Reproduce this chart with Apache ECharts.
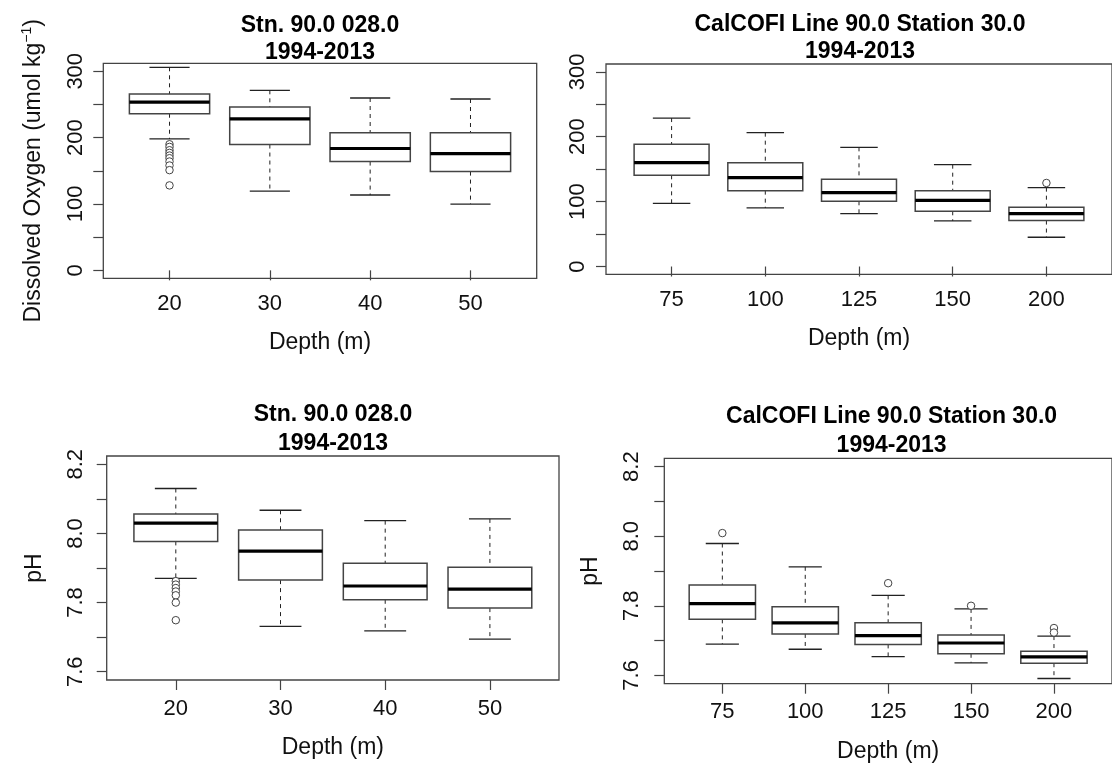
<!DOCTYPE html>
<html>
<head>
<meta charset="utf-8">
<script src="https://cdn.jsdelivr.net/npm/echarts@6/dist/echarts.min.js"></script>
<style>
html,body{margin:0;padding:0;background:#fff;}
#chart{width:1112px;height:770px;}
</style>
</head>
<body>
<div id="chart"></div>
<script>
// ---------- data ----------
// box stats per depth: [lower whisker, Q1, median, Q3, upper whisker]
const oxyStnCats = ['20', '30', '40', '50'];
const oxyStnBoxes = [
  [198, 236, 253.6, 265.7, 306],
  [119.5, 189.6, 228.4, 246, 271.3],
  [113.5, 163.9, 183.6, 207.3, 259.7],
  [99.8, 148.8, 176, 207.3, 258.2]
];
// outliers: [category index, value]
const oxyStnOutliers = [[0, 190], [0, 186], [0, 181], [0, 177], [0, 173], [0, 169], [0, 164], [0, 158], [0, 151], [0, 128]];

const oxyCalCats = ['75', '100', '125', '150', '200'];
const oxyCalBoxes = [
  [97.4, 140.5, 160, 188.2, 228.7],
  [90.3, 116.9, 136.9, 160, 206.2],
  [81.5, 100.5, 113.8, 134.4, 183.6],
  [70.3, 85.1, 102, 116.9, 156.9],
  [45.1, 70.8, 81.5, 91.3, 121.5]
];
const oxyCalOutliers = [[4, 128.7]];

const phStnCats = ['20', '30', '40', '50'];
const phStnBoxes = [
  [7.870, 7.977, 8.030, 8.056, 8.130],
  [7.731, 7.865, 7.949, 8.010, 8.067],
  [7.718, 7.808, 7.848, 7.914, 8.037],
  [7.694, 7.784, 7.839, 7.902, 8.042]
];
const phStnOutliers = [[0, 7.862], [0, 7.852], [0, 7.842], [0, 7.832], [0, 7.821], [0, 7.800], [0, 7.749]];

const phCalCats = ['75', '100', '125', '150', '200'];
const phCalBoxes = [
  [7.690, 7.761, 7.806, 7.860, 7.979],
  [7.675, 7.719, 7.751, 7.797, 7.912],
  [7.654, 7.689, 7.714, 7.751, 7.830],
  [7.636, 7.662, 7.693, 7.716, 7.791],
  [7.591, 7.635, 7.653, 7.669, 7.713]
];
const phCalOutliers = [[0, 8.009], [2, 7.865], [3, 7.800], [4, 7.736], [4, 7.723]];

// tick marks and labelled ticks
const oxyTicks = [0, 50, 100, 150, 200, 250, 300];
const oxyLabels = [0, 100, 200, 300];
const phTicks = [7.6, 7.7, 7.8, 7.9, 8.0, 8.1, 8.2];
const phLabels = [7.6, 7.8, 8.0, 8.2];

const titleStn = 'Stn. 90.0 028.0\n1994-2013';
const titleCal = 'CalCOFI Line 90.0 Station 30.0\n1994-2013';

// ---------- chart ----------
const FONT = '"Liberation Sans", Arial, sans-serif';
const chart = echarts.init(document.getElementById('chart'), null, {renderer: 'canvas'});

function renderBox(params, api) {
  const x = api.value(0);
  const lo = api.value(1), q1 = api.value(2), med = api.value(3), q3 = api.value(4), hi = api.value(5);
  const c = (xx, yy) => api.coord([xx, yy]);
  const pHi = c(x, hi), pQ3 = c(x, q3), pQ1 = c(x, q1), pLo = c(x, lo);
  const bl = c(x - 0.4, q3), br = c(x + 0.4, q1);
  const capL = c(x - 0.2, hi)[0], capR = c(x + 0.2, hi)[0];
  const medY = c(x, med)[1];
  const dashStyle = {stroke: '#222', lineWidth: 1, lineDash: [4, 4]};
  const capStyle = {stroke: '#222', lineWidth: 1.3};
  return {
    type: 'group',
    children: [
      {type: 'line', shape: {x1: pHi[0], y1: pHi[1], x2: pQ3[0], y2: pQ3[1]}, style: dashStyle},
      {type: 'line', shape: {x1: pQ1[0], y1: pQ1[1], x2: pLo[0], y2: pLo[1]}, style: dashStyle},
      {type: 'line', shape: {x1: capL, y1: pHi[1], x2: capR, y2: pHi[1]}, style: capStyle},
      {type: 'line', shape: {x1: capL, y1: pLo[1], x2: capR, y2: pLo[1]}, style: capStyle},
      {type: 'rect', shape: {x: bl[0], y: bl[1], width: br[0] - bl[0], height: br[1] - bl[1]},
        style: {fill: '#fff', stroke: '#444', lineWidth: 1.5}},
      {type: 'line', shape: {x1: bl[0], y1: medY, x2: br[0], y2: medY}, style: {stroke: '#000', lineWidth: 3.2}}
    ]
  };
}

function boxData(boxes) {
  return boxes.map((b, i) => [i + 1].concat(b));
}
function outData(outs) {
  return outs.map(o => [o[0] + 1, o[1]]);
}

const panels = [
  {cats: oxyStnCats, boxes: oxyStnBoxes, outs: oxyStnOutliers, ph: false,
   grid: {left: 103.3, right: 575.3, top: 63.3, bottom: 491.7},
   title: titleStn, tx: 320, ty: 12, lh: 27, yname: true, xlm: 15, ylm: 16, xng: 53, yng: 57},
  {cats: oxyCalCats, boxes: oxyCalBoxes, outs: oxyCalOutliers, ph: false,
   grid: {left: 606, right: -2, top: 64, bottom: 495.7},
   title: titleCal, tx: 860, ty: 11, lh: 27, yname: false, xlm: 15, ylm: 17, xng: 53, yng: 57},
  {cats: phStnCats, boxes: phStnBoxes, outs: phStnOutliers, ph: true,
   grid: {left: 106.7, right: 553, top: 456, bottom: 90},
   title: titleStn, tx: 333, ty: 400, lh: 29, yname: true, xlm: 18, ylm: 20, xng: 56, yng: 61},
  {cats: phCalCats, boxes: phCalBoxes, outs: phCalOutliers, ph: true,
   grid: {left: 664.3, right: -7, top: 458.3, bottom: 86.3},
   title: titleCal, tx: 891.6, ty: 402, lh: 29, yname: true, xlm: 17, ylm: 21, xng: 56, yng: 62}
];

const option = {
  backgroundColor: '#fff',
  animation: false,
  title: [], grid: [], xAxis: [], yAxis: [], series: []
};

panels.forEach((p, i) => {
  const n = p.cats.length;
  const xmin = 0.5 - 0.04 * n, xmax = n + 0.5 + 0.04 * n;
  option.title.push({
    text: p.title, left: p.tx, top: p.ty, textAlign: 'center', padding: 0,
    textStyle: {fontFamily: FONT, fontWeight: 'bold', fontSize: 23, color: '#000', lineHeight: p.lh}
  });
  option.grid.push(Object.assign({show: true, borderColor: '#444', borderWidth: 1.3, backgroundColor: 'transparent', containLabel: false}, p.grid));
  const cats = p.cats;
  option.xAxis.push({
    type: 'value', gridIndex: i, min: xmin, max: xmax,
    name: 'Depth (m)', nameLocation: 'middle', nameGap: p.xng,
    nameTextStyle: {fontFamily: FONT, fontSize: 23, color: '#111'},
    axisLine: {show: false},
    splitLine: {show: false},
    axisTick: {show: true, customValues: cats.map((c, k) => k + 1), length: 10, lineStyle: {color: '#444', width: 1.2}},
    axisLabel: {customValues: cats.map((c, k) => k + 1), margin: p.xlm, fontFamily: FONT, fontSize: 22, color: '#111',
      formatter: v => cats[Math.round(v) - 1]}
  });
  const ticks = p.ph ? phTicks : oxyTicks;
  const labels = p.ph ? phLabels : oxyLabels;
  const range = p.ph ? [7.6, 8.2] : [0, 300];
  const ext = (range[1] - range[0]) * 0.04;
  const yName = p.yname ? (p.ph ? 'pH' : 'Dissolved Oxygen (umol kg{sup|\u22121})') : '';
  option.yAxis.push({
    type: 'value', gridIndex: i, min: range[0] - ext, max: range[1] + ext,
    name: yName, nameLocation: 'middle', nameRotate: 90, nameGap: p.yng,
    nameTextStyle: {fontFamily: FONT, fontSize: 23, color: '#111',
      rich: {sup: {fontFamily: FONT, fontSize: 14, color: '#111', verticalAlign: 'top', padding: [0, 0, 12, 0]}}},
    axisLine: {show: false},
    splitLine: {show: false},
    axisTick: {show: true, customValues: ticks, length: 10, lineStyle: {color: '#444', width: 1.2}},
    axisLabel: {customValues: labels, rotate: 90, margin: p.ylm, fontFamily: FONT, fontSize: 22, color: '#111',
      formatter: v => p.ph ? Number(v).toFixed(1) : String(Math.round(v))}
  });
  option.series.push({
    type: 'custom', xAxisIndex: i, yAxisIndex: i, renderItem: renderBox,
    encode: {x: 0, y: [1, 2, 3, 4, 5]}, clip: false, silent: true,
    data: boxData(p.boxes)
  });
  option.series.push({
    type: 'scatter', xAxisIndex: i, yAxisIndex: i, symbol: 'circle', symbolSize: 7.5, silent: true,
    itemStyle: {color: '#fff', borderColor: '#444', borderWidth: 1, opacity: 1},
    z: 5,
    data: outData(p.outs)
  });
});

chart.setOption(option);
</script>
</body>
</html>
